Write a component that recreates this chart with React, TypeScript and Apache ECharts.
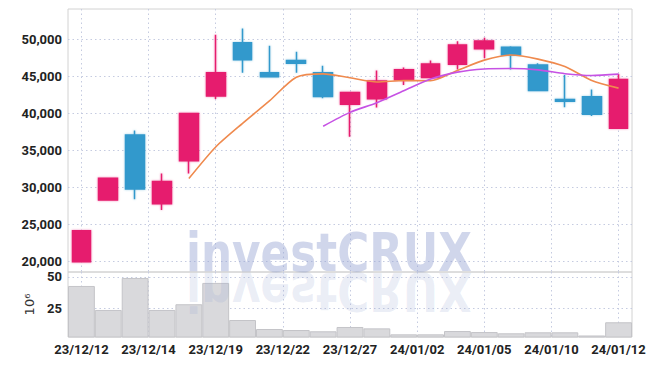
import React, { useEffect, useRef } from "react";
import * as echarts from "echarts";

const DATES = [
  "23/12/12", "23/12/13", "23/12/14", "23/12/15", "23/12/18", "23/12/19", "23/12/20",
  "23/12/21", "23/12/22", "23/12/26", "23/12/27", "23/12/28", "24/01/02", "24/01/03",
  "24/01/04", "24/01/05", "24/01/08", "24/01/09", "24/01/10", "24/01/11", "24/01/12",
];
const OPEN = [19950, 28300, 37100, 27800, 33600, 42350, 49550, 45500, 47150, 45500, 41250, 42000, 44550, 44850, 46650, 48750, 48950, 46550, 41900, 42250, 38000];
const CLOSE = [24150, 31250, 29800, 30800, 40000, 45500, 47250, 44950, 46800, 42300, 42850, 44400, 45900, 46700, 49250, 49800, 47900, 43100, 41650, 39900, 44600];
const LOW = [19950, 28300, 28400, 26950, 31900, 41950, 45500, 44950, 45500, 42050, 36850, 40800, 43850, 44850, 45950, 47450, 45950, 43100, 40850, 39650, 38000];
const HIGH = [24150, 31250, 37700, 31900, 40000, 50650, 51500, 49150, 48350, 46450, 42850, 45800, 46200, 47150, 49750, 50250, 49100, 46800, 45200, 43250, 45350];
const MA5 = [null, null, null, null, 31200, 35470, 38670, 41700, 44900, 45360, 44830, 44260, 44450, 44430, 45820, 47210, 47910, 47350, 46340, 44470, 43430];
const MA10 = [null, null, null, null, null, null, null, null, null, 38280, 40150, 41460, 43070, 44660, 45590, 46020, 46080, 45900, 45380, 45140, 45320];
const VOLUME = [42.9, 24.0, 49.2, 24.0, 28.5, 45.3, 16.1, 9.0, 8.2, 7.2, 10.6, 9.5, 4.8, 4.8, 7.4, 6.6, 5.6, 6.4, 6.4, 3.9, 14.3];
const PRICE_TICKS = [20000, 25000, 30000, 35000, 40000, 45000, 50000];
const VOL_TICKS = [25, 50];
const X_TICK_POS = [0, 2.5, 5, 7.5, 10, 12.5, 15, 17.5, 20];
const X_TICK_LABELS = ["23/12/12", "23/12/14", "23/12/19", "23/12/22", "23/12/27", "24/01/02", "24/01/05", "24/01/10", "24/01/12"];

const UP = "#e61e6e";
const DOWN = "#3399cc";
const GRID_LINE = "#c5cbe0";
const FONT = "Roboto, 'DejaVu Sans Condensed', sans-serif";

export default function App() {
  const ref = useRef<HTMLDivElement>(null);
  useEffect(() => {
    if (!ref.current) return;
    const chart = echarts.init(ref.current, undefined, { renderer: "svg" });
    const candles = OPEN.map((o, i) => {
      const up = CLOSE[i] >= o;
      return {
        value: [o, CLOSE[i], LOW[i], HIGH[i]],
        itemStyle: { shadowBlur: 2, shadowColor: up ? "rgba(230,30,110,0.45)" : "rgba(51,153,204,0.45)" },
      };
    });
    const dotted = { show: true, lineStyle: { color: GRID_LINE, type: [1.5, 3] as any, width: 1 } };
    const wm = "investCRUX";
    const labelStyle = { color: "#222", fontSize: 13, fontWeight: "bold" as const, fontFamily: FONT };
    const wmStyle = {
      text: wm, x: 0, y: 8.2, verticalAlign: "bottom",
      fontSize: 53.5, fontWeight: "bold" as const, fontFamily: "'DejaVu Sans', sans-serif",
    };
    chart.setOption({
      animation: false,
      grid: [
        { left: 68, right: 23, top: 9, height: 263, show: true, borderColor: "#d2d2d2", borderWidth: 1 },
        { left: 68, right: 23, top: 272, height: 65, show: true, borderColor: "#d2d2d2", borderWidth: 1 },
      ],
      xAxis: [
        { type: "category", gridIndex: 0, position: "bottom", data: DATES, axisLabel: { show: false }, axisTick: { show: false }, axisLine: { show: false }, splitLine: { show: false } },
        { type: "category", gridIndex: 1, position: "top", data: DATES, axisLabel: { show: false }, axisTick: { show: false }, axisLine: { show: false }, splitLine: { show: false } },
        {
          type: "value", gridIndex: 0, position: "top", min: -0.5, max: 20.5,
          axisLabel: { show: false }, axisLine: { show: false },
          axisTick: { show: false, customValues: X_TICK_POS },
          splitLine: dotted,
        },
        {
          type: "value", gridIndex: 1, position: "bottom", min: -0.5, max: 20.5, axisLine: { show: false },
          axisTick: { show: false, customValues: X_TICK_POS },
          axisLabel: {
            ...labelStyle, customValues: X_TICK_POS, margin: 6,
            formatter: (v: number) => X_TICK_LABELS[X_TICK_POS.indexOf(v)] ?? "",
          },
          splitLine: dotted,
        },
      ],
      yAxis: [
        {
          type: "value", gridIndex: 0, min: 18580, max: 54120, axisLine: { show: false },
          axisTick: { show: false, customValues: PRICE_TICKS },
          axisLabel: {
            ...labelStyle, customValues: PRICE_TICKS, margin: 6,
            formatter: (v: number) => v.toLocaleString("en-US"),
          },
          splitLine: dotted,
        },
        {
          type: "value", gridIndex: 1, min: 2.7, max: 53.9, axisLine: { show: false },
          axisTick: { show: false, customValues: VOL_TICKS },
          axisLabel: { ...labelStyle, customValues: VOL_TICKS, margin: 6, hideOverlap: false },
          splitLine: dotted,
          name: "10⁶", nameLocation: "middle", nameGap: 23, nameRotate: 90,
          nameTextStyle: { color: "#333", fontSize: 13, fontFamily: "DejaVu Sans" },
        },
      ],
      series: [
        {
          type: "bar", xAxisIndex: 1, yAxisIndex: 1, data: VOLUME, barWidth: "100%",
          itemStyle: { color: "#d9d9dc", borderColor: "#c4c4c8", borderWidth: 1 },
          z: 1,
        },
        {
          type: "candlestick", xAxisIndex: 0, yAxisIndex: 0, data: candles, barWidth: "72%",
          itemStyle: { color: UP, color0: DOWN, borderColor: UP, borderColor0: DOWN, borderWidth: 1.5 },
          z: 3,
        },
        {
          type: "line", xAxisIndex: 0, yAxisIndex: 0, data: MA5, symbol: "none", smooth: 0.25,
          lineStyle: { color: "#ef8a4e", width: 1.6 }, z: 4,
        },
        {
          type: "line", xAxisIndex: 0, yAxisIndex: 0, data: MA10, symbol: "none", smooth: 0.25,
          lineStyle: { color: "#c652e4", width: 1.6 }, z: 4,
        },
      ],
      graphic: [
        {
          type: "text", x: 186, y: 272, scaleX: 0.817, z: 50, silent: true,
          style: { ...wmStyle, fill: "rgba(150,165,210,0.45)" },
        },
        {
          type: "text", x: 186, y: 272, scaleX: 0.817, scaleY: -1, z: 50, silent: true,
          style: { ...wmStyle, fill: "rgba(150,165,210,0.2)" },
        },
      ],
    });
    return () => chart.dispose();
  }, []);
  return <div ref={ref} style={{ width: 655, height: 366, position: "absolute", left: 0, top: 0 }} />;
}
